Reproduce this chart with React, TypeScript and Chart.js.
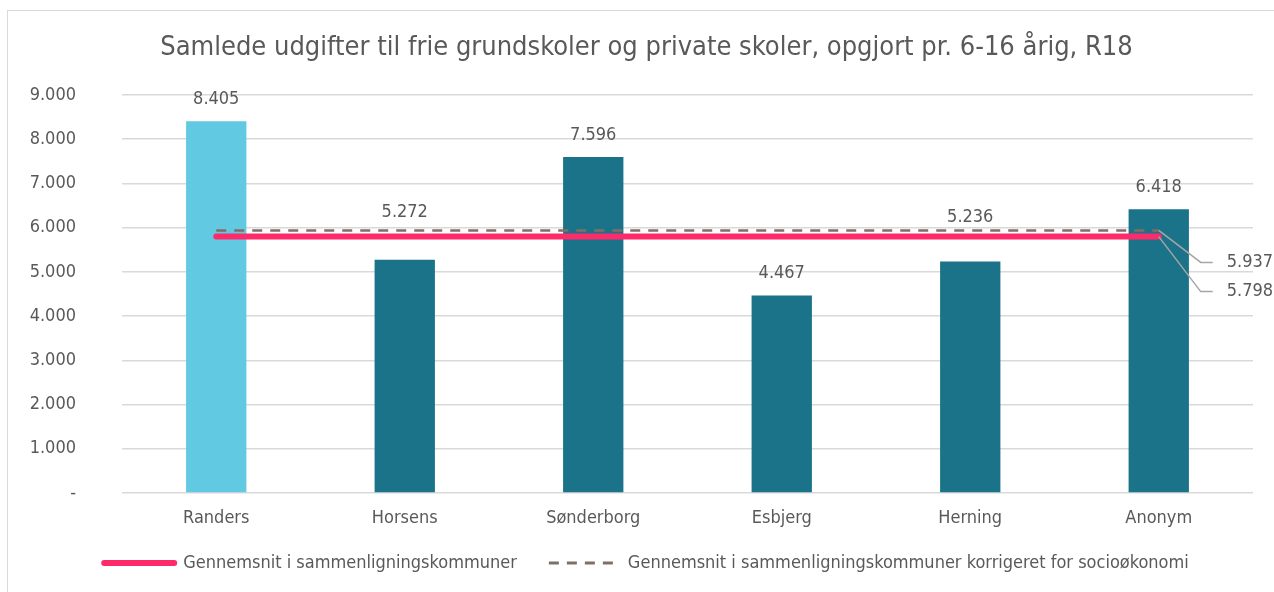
import React, { useEffect, useRef } from "react";
import { Chart, registerables } from "chart.js";

Chart.register(...registerables);

const titleText = "Samlede udgifter til frie grundskoler og private skoler, opgjort pr. 6-16 årig, R18";
const categories = ["Randers", "Horsens", "Sønderborg", "Esbjerg", "Herning", "Anonym"];
const spending = [8405, 5272, 7596, 4467, 5236, 6418];
const averageSeries = [5798, 5798, 5798, 5798, 5798, 5798];
const correctedSeries = [5937, 5937, 5937, 5937, 5937, 5937];
const yTicks = [0, 1000, 2000, 3000, 4000, 5000, 6000, 7000, 8000, 9000];
const legendAverage = "Gennemsnit i sammenligningskommuner";
const legendCorrected = "Gennemsnit i sammenligningskommuner korrigeret for socioøkonomi";

const FONT = "'DejaVu Sans Condensed', 'DejaVu Sans', sans-serif";
const TEXT = "#595959";
const SIZE = 18;

function fmt(v: number): string {
  if (v === 0) return "-";
  const s = Math.round(v).toString();
  return s.replace(/\B(?=(\d{3})+(?!\d))/g, ".");
}

const noClipPlugin = {
  id: "noLabelClip",
  beforeDraw(chart: any) {
    ["x", "y"].forEach((k) => {
      const s = chart.scales[k];
      if (s) s._computeLabelArea = () => undefined;
    });
  },
};

const labelPlugin = {
  id: "customLabels",
  afterDatasetsDraw(chart: any) {
    const ctx = chart.ctx;
    const x = chart.scales.x;
    const y = chart.scales.y;
    const lift = [22, 48, 22, 22, 44, 22];
    ctx.save();
    ctx.font = `${SIZE}px ${FONT}`;
    ctx.fillStyle = TEXT;
    ctx.textAlign = "center";
    ctx.textBaseline = "middle";
    spending.forEach((v, i) => {
      ctx.fillText(fmt(v), x.getPixelForValue(i), y.getPixelForValue(v) - lift[i]);
    });
    const last = categories.length - 1;
    const ex = x.getPixelForValue(last);
    const items = [
      { v: correctedSeries[last], dy: 32 },
      { v: averageSeries[last], dy: 55 },
    ];
    ctx.strokeStyle = "#A6A6A6";
    ctx.lineWidth = 1.5;
    items.forEach((it) => {
      const sy = y.getPixelForValue(it.v);
      const ty = sy + it.dy;
      ctx.beginPath();
      ctx.moveTo(ex, sy);
      ctx.lineTo(ex + 42, ty);
      ctx.lineTo(ex + 54, ty);
      ctx.stroke();
      ctx.textAlign = "left";
      ctx.fillText(fmt(it.v), ex + 68, ty);
    });
    ctx.restore();
  },
};

export default function App() {
  const ref = useRef<HTMLCanvasElement | null>(null);
  useEffect(() => {
    if (!ref.current) return;
    const chart = new Chart(ref.current, {
      type: "bar",
      data: {
        labels: categories,
        datasets: [
          {
            type: "line",
            label: legendAverage,
            data: averageSeries,
            borderColor: "#FF2A6A",
            backgroundColor: "#FF2A6A",
            borderWidth: 6,
            borderCapStyle: "round",
            pointRadius: 0,
            fill: false,
          } as any,
          {
            type: "line",
            label: legendCorrected,
            data: correctedSeries,
            borderColor: "#7F7067",
            backgroundColor: "#7F7067",
            borderWidth: 2.5,
            borderDash: [10, 8],
            pointRadius: 0,
            fill: false,
          } as any,
          {
            type: "bar",
            label: "Udgifter",
            data: spending,
            backgroundColor: ["#62C9E2", "#1B7389", "#1B7389", "#1B7389", "#1B7389", "#1B7389"],
            barPercentage: 0.32,
            categoryPercentage: 1,
          },
        ],
      },
      options: {
        responsive: false,
        animation: false,
        layout: { padding: { left: 32, right: 21, top: 0, bottom: 10 } },
        plugins: {
          title: {
            display: true,
            text: titleText,
            color: TEXT,
            font: { family: FONT, size: 27, weight: "normal", lineHeight: 1.2 },
            padding: { top: 20.5, bottom: 31.1 },
          },
          tooltip: { enabled: false },
          legend: {
            position: "bottom",
            labels: {
              color: TEXT,
              font: { family: FONT, size: SIZE },
              usePointStyle: true,
              pointStyle: "line",
              pointStyleWidth: 70,
              padding: 32,
              generateLabels: (chart: any) => {
                const ds = chart.data.datasets;
                return [0, 1].map((i) => ({
                  text: ds[i].label,
                  datasetIndex: i,
                  fillStyle: ds[i].borderColor,
                  strokeStyle: ds[i].borderColor,
                  lineWidth: i === 0 ? 6 : 3,
                  lineDash: i === 0 ? [] : [10, 8],
                  lineCap: i === 0 ? "round" : "butt",
                  pointStyle: "line",
                  hidden: false,
                  fontColor: TEXT,
                }));
              },
            },
          },
        },
        scales: {
          x: {
            grid: { display: false, drawTicks: false },
            border: { display: false },
            afterFit: (s: any) => {
              s.height = 29;
            },
            ticks: { color: TEXT, font: { family: FONT, size: SIZE, lineHeight: 1 }, padding: 16 },
          },
          y: {
            min: 0,
            max: 9000,
            afterFit: (s: any) => {
              s.width = 82;
            },
            afterBuildTicks: (s: any) => {
              s.ticks = yTicks.map((v) => ({ value: v }));
            },
            grid: { color: "#D9D9D9", lineWidth: 1.5, drawTicks: false },
            border: { display: false },
            ticks: {
              color: TEXT,
              font: { family: FONT, size: SIZE },
              padding: 46,
              callback: (v: any) => fmt(Number(v)),
            },
          },
        },
      },
      plugins: [noClipPlugin, labelPlugin],
    });
    return () => chart.destroy();
  }, []);

  return (
    <div
      style={{
        position: "fixed",
        left: 7,
        top: 10,
        width: 1267,
        height: 582,
        borderLeft: "1px solid #D9D9D9",
        borderTop: "1px solid #D9D9D9",
        boxSizing: "border-box",
        background: "#fff",
      }}
    >
      <canvas ref={ref} width={1266} height={581} style={{ display: "block" }} />
    </div>
  );
}
